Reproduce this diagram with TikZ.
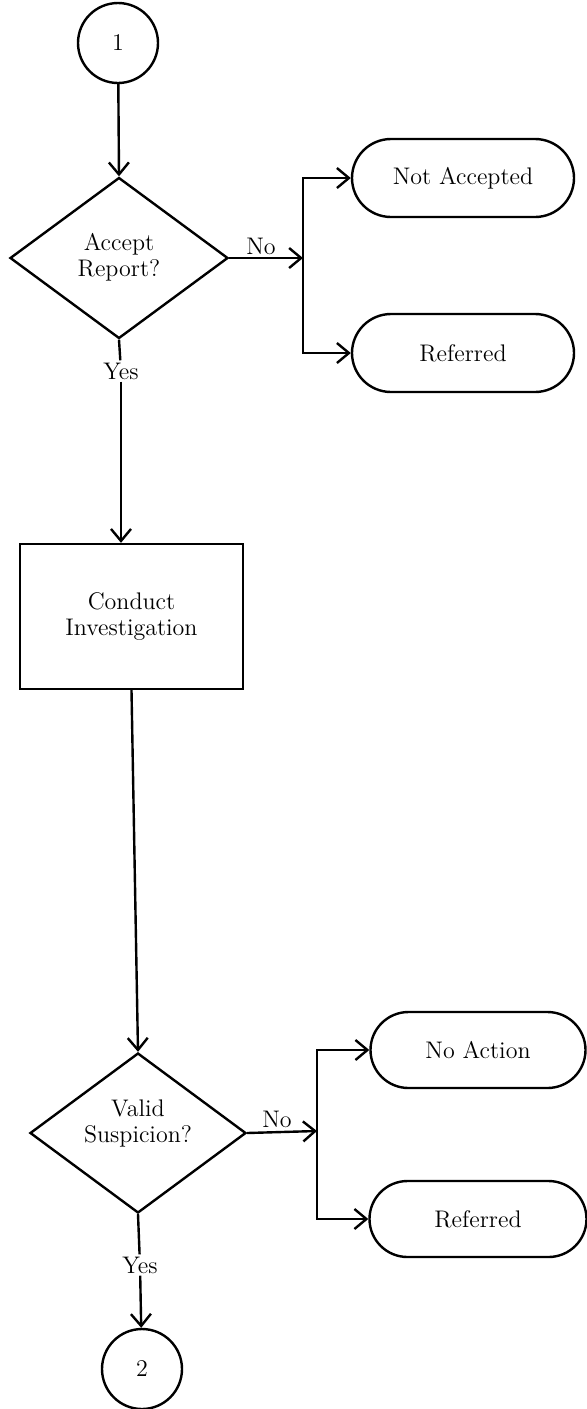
\documentclass[tikz,border=0pt]{standalone}
\usetikzlibrary{shapes.geometric,shapes.misc,arrows.meta}
\begin{document}
\begin{tikzpicture}[x=0.5pt,y=-0.5pt,
  every node/.style={font=\fontsize{12}{13}\selectfont, align=center},
  line/.style={line width=1.2pt},
  arr/.style={line width=1.2pt, -{Straight Barb[length=6pt,width=10pt,line width=1.2pt]}},
  conn/.style={draw, circle, line width=1.2pt, minimum size=40pt, inner sep=0pt},
  decision/.style={draw, diamond, line width=1.2pt, inner sep=0pt},
  term/.style={draw, rounded rectangle, line width=1.2pt, minimum width=111pt, minimum height=39pt, inner sep=0pt},
  procbox/.style={draw, rectangle, line width=1.2pt, minimum width=111.5pt, minimum height=72.5pt, inner sep=0pt},
  lbl/.style={inner sep=1pt}
]
\useasboundingbox (0,0) rectangle (587,1409);

% top connector
\node[conn] (c1) at (118,43) {1};

% decision 1
\node[decision, minimum width=109pt, minimum height=80.5pt] (d1) at (119,258) {};
\node (d1t) at (119,257) {Accept\\Report?};
\node[lbl] (no1) at (261,246) {No};
\coordinate (b1) at (303,258);
\node[term] (na) at (463,178) {Not Accepted};
\node[term] (ref1) at (463,353) {Referred};
\node[lbl, fill=white] (yes1) at (121,371) {Yes};

% process box
\node[procbox] (box) at (131.5,616.5) {Conduct\\Investigation};

% decision 2
\node[decision, minimum width=108pt, minimum height=80pt] (d2) at (138,1133) {};
\node (d2t) at (138,1123) {Valid\\Suspicion?};
\node[lbl] (no2) at (277,1119) {No};
\coordinate (b2) at (317,1131);
\node[term, minimum width=107.5pt, minimum height=38pt] (noact) at (478,1050) {No Action};
\node[term, minimum width=108.5pt, minimum height=38pt] (ref2) at (478,1219) {Referred};
\node[lbl, fill=white] (yes2) at (140,1265) {Yes};

% bottom connector
\node[conn] (c2) at (142,1369) {2};

% connectors
\draw[arr] (c1) -- (d1.north);
\draw[arr] (d1.east) -- (b1);
\draw[arr] (b1) |- (na.west);
\draw[arr] (b1) |- (ref1.west);
\draw[line] (d1.south) -- (yes1);
\draw[arr] (yes1) -- (yes1 |- box.north);
\draw[arr] (box.south) -- (d2.north);
\draw[arr] (d2.east) -- (b2);
\draw[arr] (b2) |- (noact.west);
\draw[arr] (b2) |- (ref2.west);
\draw[line] (d2.south) -- (yes2);
\draw[arr] (yes2) -- (c2);
\end{tikzpicture}
\end{document}
